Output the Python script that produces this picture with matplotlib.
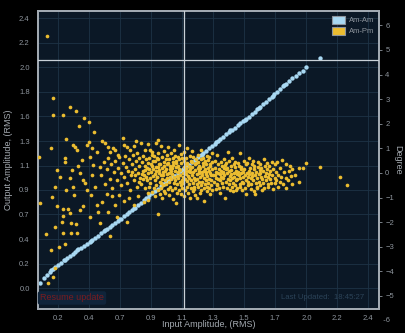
import matplotlib
matplotlib.use('Agg')
import matplotlib.pyplot as plt
import matplotlib.transforms as mtransforms
from matplotlib.patches import Patch
import numpy as np

plt.rcParams['font.family'] = ['Liberation Sans', 'DejaVu Sans']

# axis ticks (the instrument labels rounded values of evenly spaced ticks)
x_ticks = [0.218, 0.436, 0.655, 0.873, 1.091, 1.309, 1.527, 1.745, 1.964, 2.182, 2.4]
x_tick_labels = ['0.2', '0.4', '0.7', '0.9', '1.1', '1.3', '1.5', '1.7', '2.0', '2.2', '2.4']
y_ticks = [0.0, 0.222, 0.444, 0.667, 0.889, 1.111, 1.333, 1.556, 1.778, 2.0, 2.222, 2.444]
y_tick_labels = ['0.0', '0.2', '0.4', '0.7', '0.9', '1.1', '1.3', '1.6', '1.8', '2.0', '2.2', '2.4']
deg_ticks = [-6, -5, -4, -3, -2, -1, 0, 1, 2, 3, 4, 5, 6]

# marker (crosshair) position
cursor_x = 1.105
cursor_y = 2.068

# Am-Am: input vs output amplitude (RMS)
am_am = [(0.090, 0.050), (0.120, 0.090), (0.140, 0.120), (0.160, 0.150), (0.180, 0.170),
         (0.200, 0.190), (0.220, 0.210), (0.240, 0.230), (0.260, 0.250), (0.280, 0.270),
         (0.300, 0.290), (0.320, 0.310), (0.340, 0.330), (0.360, 0.350), (0.380, 0.365),
         (0.400, 0.380), (0.420, 0.400), (0.440, 0.420), (0.460, 0.440), (0.480, 0.455),
         (0.500, 0.475), (0.520, 0.495), (0.540, 0.515), (0.560, 0.535), (0.580, 0.550),
         (0.600, 0.570), (0.620, 0.590), (0.640, 0.610), (0.660, 0.630), (0.680, 0.650),
         (0.700, 0.670), (0.720, 0.690), (0.740, 0.710), (0.760, 0.730), (0.780, 0.750),
         (0.800, 0.775), (0.820, 0.795), (0.840, 0.815), (0.860, 0.840), (0.880, 0.860),
         (0.900, 0.880), (0.920, 0.900), (0.940, 0.925), (0.960, 0.945), (0.980, 0.970),
         (1.000, 0.985), (1.020, 1.005), (1.040, 1.020), (1.060, 1.040), (1.080, 1.060),
         (1.100, 1.080), (1.120, 1.100), (1.140, 1.120), (1.160, 1.140), (1.180, 1.165),
         (1.200, 1.185), (1.220, 1.205), (1.240, 1.225), (1.260, 1.245), (1.280, 1.270),
         (1.300, 1.290), (1.320, 1.310), (1.340, 1.330), (1.360, 1.350), (1.380, 1.370),
         (1.400, 1.395), (1.420, 1.415), (1.440, 1.435), (1.460, 1.455), (1.480, 1.475),
         (1.500, 1.495), (1.520, 1.515), (1.540, 1.535), (1.560, 1.555), (1.580, 1.575),
         (1.600, 1.600), (1.620, 1.620), (1.640, 1.640), (1.660, 1.665), (1.680, 1.690),
         (1.700, 1.710), (1.720, 1.735), (1.740, 1.760), (1.760, 1.780), (1.780, 1.805),
         (1.800, 1.830), (1.820, 1.850), (1.840, 1.875), (1.860, 1.900), (1.890, 1.920),
         (1.915, 1.950), (1.940, 1.970), (1.965, 2.000), (2.060, 2.090)]
am_am_extra = [(0.17, 0.165), (0.27, 0.255), (0.35, 0.345), (0.45, 0.425), (0.55, 0.530),
               (0.65, 0.625), (0.75, 0.725), (0.85, 0.820), (0.95, 0.940), (1.03, 1.015),
               (1.13, 1.115), (1.23, 1.210), (1.33, 1.325), (1.43, 1.430), (1.53, 1.520),
               (1.63, 1.635), (1.73, 1.742), (1.81, 1.843)]

# Am-Pm: input amplitude vs phase (degree), low amplitude region
am_pm_low = [(0.141, 5.57), (0.185, 3.04), (0.183, 2.36), (0.256, 2.36), (0.303, 2.70), (0.345, 2.53),
             (0.403, 2.22), (0.436, 2.09), (0.366, 1.91), (0.474, 1.68), (0.274, 1.38), (0.169, 1.00),
             (0.085, 0.66), (0.326, 1.14), (0.340, 1.05), (0.352, 0.95), (0.438, 1.27), (0.425, 1.12),
             (0.455, 1.02), (0.209, 0.12), (0.267, 0.60), (0.270, 0.45), (0.315, 0.12), (0.300, -0.20),
             (0.370, 0.00), (0.390, -0.28), (0.455, -0.08), (0.465, 0.33), (0.385, 0.53), (0.443, 0.66),
             (0.490, 0.87), (0.420, -0.69), (0.324, -0.56), (0.197, -0.56), (0.274, -0.69), (0.174, -0.96),
             (0.092, -1.21), (0.209, -1.34), (0.251, -1.47), (0.289, -1.47), (0.256, -1.75), (0.303, -1.64),
             (0.369, -1.50), (0.390, -1.35), (0.244, -1.98), (0.308, -2.05), (0.345, -2.07), (0.197, -2.18),
             (0.256, -2.43), (0.308, -2.45), (0.354, -2.45), (0.228, -3.00), (0.167, -3.13), (0.185, -4.24),
             (0.148, -4.47), (0.197, -3.86), (0.490, -1.30), (0.450, -0.90), (0.330, -0.90), (0.440, -1.80),
             (0.130, -2.50), (0.270, -2.90), (0.410, -0.40), (0.480, -0.55), (0.360, 0.30), (0.230, -0.15)]

am_pm_rise = [(0.526, 1.30), (0.550, 1.23), (0.584, 0.87), (0.605, 1.02), (0.640, 0.73), (0.678, 1.41),
              (0.682, 1.14), (0.725, 0.93), (0.767, 1.31), (0.772, 0.80), (0.830, 0.93), (0.852, 1.17),
              (0.877, 0.73), (0.700, 1.05), (0.620, 0.95), (0.750, 1.10), (0.800, 1.20), (0.570, 1.05),
              (0.920, 1.34),
              (0.514, 0.26), (0.522, -0.10), (0.540, 0.45), (0.548, -0.45), (0.560, 0.15), (0.572, 0.60),
              (0.580, -0.25), (0.592, 0.35), (0.600, -0.60), (0.610, 0.05), (0.618, 0.50), (0.630, -0.30),
              (0.642, 0.20), (0.650, 0.65), (0.658, -0.50), (0.664, 0.00), (0.672, 0.40), (0.680, -0.15),
              (0.690, 0.70), (0.698, 0.25), (0.704, -0.40), (0.712, 0.10), (0.718, 0.55), (0.722, -0.70),
              (0.732, -0.10), (0.738, 0.35), (0.744, 0.75), (0.752, -0.30), (0.758, 0.15), (0.764, 0.50),
              (0.770, -0.55), (0.778, 0.00), (0.784, 0.60), (0.790, 0.30), (0.796, -0.20), (0.802, -0.45),
              (0.806, 0.45), (0.812, 0.10), (0.816, 0.70), (0.822, -0.10), (0.826, 0.30), (0.832, -0.60),
              (0.836, 0.55), (0.842, 0.20), (0.846, -0.30), (0.850, 0.00), (0.854, 0.40), (0.848, -0.80),
              (0.788, -0.35), (0.808, -0.05), (0.828, 0.12), (0.818, -0.25), (0.838, -0.15), (0.760, -0.10),
              (0.740, 0.05),
              (0.500, -1.60), (0.530, -1.17), (0.514, -2.05), (0.570, -1.60), (0.584, -2.56), (0.600, -0.95),
              (0.620, -1.30), (0.650, -0.90), (0.680, -1.15), (0.702, -2.00), (0.720, -1.00), (0.750, -1.30),
              (0.780, -0.95), (0.820, -1.20), (0.920, -1.67), (0.630, -1.80), (0.560, -0.85)]

am_pm_core = [(0.861, 0.62), (0.856, 0.18), (0.864, -0.22), (0.858, -0.55), (0.866, 0.95), (0.853, -1.10),
              (0.872, 0.35), (0.868, -0.40), (0.875, 0.05),
              (0.881, 0.85), (0.877, 0.30), (0.884, -0.12), (0.879, -0.78), (0.886, 0.48),
              (0.892, -0.60), (0.888, 0.15), (0.895, 0.70),
              (0.901, 0.48), (0.897, -0.30), (0.904, 0.10), (0.899, -0.95), (0.906, 0.25), (0.903, -0.05),
              (0.912, 0.60), (0.908, -0.50), (0.915, -0.18), (0.910, 1.20),
              (0.921, 0.25), (0.917, -0.15), (0.924, 0.55), (0.919, -0.70), (0.926, 0.00), (0.923, 0.80),
              (0.932, -0.35), (0.928, 0.38), (0.935, -0.85), (0.930, 0.12),
              (0.941, 1.10), (0.937, 0.38), (0.944, -0.08), (0.939, -0.62), (0.946, 0.20), (0.943, -0.40),
              (0.952, 0.65), (0.948, -0.25), (0.955, 0.05), (0.950, -1.00),
              (0.961, 0.45), (0.957, -0.50), (0.964, 0.28), (0.959, -0.10), (0.966, 0.90), (0.963, -0.75),
              (0.972, -0.83), (0.968, 0.10), (0.975, 0.55), (0.970, -0.30),
              (0.981, 0.72), (0.977, 0.18), (0.984, -0.20), (0.979, -0.45), (0.986, 0.35), (0.983, -0.05),
              (0.992, -0.65), (0.988, 0.40), (0.995, 0.00), (0.990, 1.05),
              (1.001, 0.55), (0.997, -0.35), (1.004, 0.15), (0.999, -0.90), (1.006, 0.30), (1.003, -0.15),
              (1.012, 0.80), (1.008, -0.55), (1.015, 0.08), (1.010, -0.25),
              (1.021, 0.22), (1.017, -0.70), (1.024, 0.45), (1.019, -0.05), (1.026, 0.62), (1.023, -1.05),
              (1.032, -0.40), (1.028, 0.33), (1.035, -0.18), (1.030, 0.95),
              (1.041, 0.10), (1.037, -0.60), (1.044, 0.50), (1.039, -0.28), (1.046, -1.22), (1.043, 0.70),
              (1.052, -0.12), (1.048, 0.25), (1.055, -0.80), (1.050, 0.40),
              (1.061, 0.65), (1.057, -0.45), (1.064, 0.05), (1.059, -0.20), (1.066, 1.15), (1.063, 0.30),
              (1.072, -0.68), (1.068, 0.18), (1.075, -0.35), (1.070, 0.55),
              (1.081, 0.42), (1.077, -0.10), (1.084, -0.85), (1.079, 0.12), (1.086, 0.78), (1.083, -0.50),
              (1.092, -0.30), (1.088, 0.60), (1.095, 0.00), (1.090, -0.62),
              (1.101, 0.25), (1.097, -0.40), (1.104, 0.48), (1.099, -0.15), (1.106, -0.95), (1.103, 0.85),
              (1.112, 0.10), (1.108, -0.70), (1.115, 0.35), (1.110, -0.25),
              (1.121, 0.62), (1.117, -0.05), (1.124, -0.55), (1.119, 0.20), (1.126, 1.00), (1.123, -0.32),
              (1.132, -0.80), (1.128, 0.40), (1.135, -0.12), (1.130, 0.08),
              (1.141, 0.30), (1.137, -0.45), (1.144, 0.70), (1.139, -0.20), (1.146, 0.05), (1.143, -1.00),
              (1.152, -0.60), (1.148, 0.15), (1.155, 0.50), (1.150, -0.30),
              (1.161, 0.88), (1.157, -0.10), (1.164, -0.40), (1.159, 0.25), (1.166, -0.75), (1.163, 0.45),
              (1.172, -0.22), (1.168, 0.02), (1.175, -0.55), (1.170, 0.65),
              (1.181, 0.35), (1.177, -0.65), (1.184, 0.12), (1.179, -0.30), (1.186, 0.58), (1.183, -0.90),
              (1.192, -0.05), (1.188, 0.40), (1.195, -0.45), (1.194, -1.03),
              (1.201, 0.20), (1.197, -0.25), (1.204, 0.72), (1.199, -0.58), (1.206, 0.00), (1.203, 0.45),
              (1.212, -0.35), (1.208, 0.10), (1.215, -0.80), (1.210, 0.30),
              (1.221, 0.55), (1.217, -0.15), (1.224, -0.50), (1.219, 0.22), (1.226, -0.70), (1.223, 0.95),
              (1.232, 0.05), (1.228, -0.38), (1.235, 0.40), (1.230, -0.10),
              (1.241, -0.62), (1.237, 0.28), (1.244, -0.20), (1.239, 0.60), (1.246, -1.12), (1.243, 0.08),
              (1.252, 0.15), (1.248, -0.45), (1.255, -0.05), (1.250, 0.48),
              (1.261, -0.28), (1.257, 0.35), (1.264, -0.75), (1.259, 0.02), (1.266, 0.70), (1.263, -0.55),
              (1.272, 0.22), (1.268, -0.12), (1.275, -0.40), (1.270, 0.52),
              (1.281, 0.10), (1.277, -0.60), (1.284, 0.38), (1.279, -0.25), (1.286, -0.85), (1.283, 0.65),
              (1.292, -0.08), (1.288, 0.30), (1.295, -0.50), (1.290, 0.00),
              (1.301, 0.45), (1.297, -0.30), (1.304, 0.15), (1.299, -0.70), (1.306, -0.10), (1.303, 0.80)]

am_pm_high = [(1.321, 0.20), (1.317, -0.35), (1.324, 0.50), (1.319, -0.10), (1.326, -0.65),
              (1.332, -0.20), (1.328, 0.05), (1.335, -0.50),
              (1.341, 0.35), (1.337, -0.45), (1.344, 0.00), (1.339, 0.75), (1.346, -0.25),
              (1.352, -0.60), (1.348, 0.15), (1.355, -0.05),
              (1.361, 0.10), (1.357, -0.30), (1.364, 0.45), (1.359, -0.80), (1.366, -0.15),
              (1.372, 0.28), (1.368, -0.40), (1.375, -0.02),
              (1.381, -0.55), (1.377, 0.05), (1.384, 0.55), (1.379, -0.20), (1.386, 0.20),
              (1.392, -1.00), (1.388, -0.10), (1.395, 0.32),
              (1.401, 0.15), (1.397, -0.35), (1.404, -0.60), (1.399, 0.40), (1.406, 0.00),
              (1.412, -0.25), (1.408, 0.22), (1.415, 0.87),
              (1.421, -0.45), (1.417, 0.08), (1.424, -0.12), (1.419, 0.50), (1.426, -0.70),
              (1.432, 0.30), (1.428, -0.30), (1.435, -0.05),
              (1.441, -0.55), (1.437, 0.12), (1.444, 0.60), (1.439, -0.20), (1.446, -0.40),
              (1.452, 0.00), (1.448, -0.75), (1.455, 0.35),
              (1.461, 0.25), (1.457, -0.15), (1.464, -0.50), (1.459, 0.45), (1.466, -0.69),
              (1.472, -0.30), (1.468, 0.10), (1.475, -0.05),
              (1.481, 0.40), (1.477, -0.62), (1.484, 0.05), (1.479, -0.25),
              (1.492, -0.10), (1.488, 0.30), (1.495, -0.45),
              (1.501, 0.80), (1.497, -0.20), (1.504, 0.15), (1.499, -0.55), (1.506, 0.00),
              (1.512, -0.35), (1.508, 0.25), (1.515, -0.70),
              (1.521, 0.05), (1.517, -0.15), (1.524, 0.50), (1.519, -0.40),
              (1.532, -0.60), (1.528, 0.18), (1.535, -0.08),
              (1.541, 0.35), (1.537, -0.30), (1.544, 0.00), (1.539, -0.85),
              (1.552, -0.18), (1.548, 0.42), (1.555, -0.50),
              (1.561, 0.10), (1.557, -0.35), (1.564, 0.60), (1.559, -0.05),
              (1.572, -0.65), (1.568, 0.22), (1.575, -0.22),
              (1.581, 0.00), (1.577, -0.45), (1.584, 0.35), (1.579, -0.12),
              (1.592, 0.50), (1.588, -0.28), (1.595, -0.75),
              (1.601, -0.85), (1.597, 0.15), (1.604, -0.10), (1.599, 0.30),
              (1.612, -0.40), (1.608, 0.05), (1.615, -0.55),
              (1.621, 0.25), (1.617, -0.20), (1.624, 0.45), (1.619, -0.60),
              (1.632, -0.05), (1.628, -0.35), (1.635, 0.12),
              (1.641, 0.38), (1.637, -0.50), (1.644, -0.15), (1.639, 0.00),
              (1.652, -0.25), (1.648, 0.20), (1.655, -0.70),
              (1.661, 0.10), (1.657, -0.40), (1.664, 0.55),
              (1.672, -0.12), (1.668, -0.60), (1.675, 0.28),
              (1.681, 0.00), (1.677, -0.30), (1.684, 0.40),
              (1.692, -0.45), (1.688, 0.15), (1.695, -0.18),
              (1.701, 0.30), (1.697, -0.55), (1.704, -0.05),
              (1.712, -0.25), (1.708, 0.08),
              (1.721, 0.46), (1.717, -0.40), (1.724, -0.10),
              (1.732, 0.18), (1.728, -0.65),
              (1.741, -0.20), (1.746, 0.35), (1.744, -0.41),
              (1.752, 0.05), (1.748, -0.30),
              (1.758, 0.46), (1.762, -0.56), (1.765, -0.08),
              (1.781, 0.20), (1.777, -0.35),
              (1.793, 0.53), (1.788, -0.15),
              (1.801, -0.45), (1.806, 0.05),
              (1.823, 0.35), (1.823, -0.62), (1.818, -0.20),
              (1.841, 0.10), (1.837, -0.30),
              (1.852, 0.28), (1.855, -0.12),
              (1.862, -0.45), (1.866, 0.15),
              (1.883, -0.10),
              (1.910, 0.20), (1.915, -0.35), (1.940, 0.19), (1.964, 0.39),
              (2.063, 0.26), (2.201, -0.15), (2.253, -0.49)]

blue = '#a8d8f2'
gold = '#ecbd30'
txt = '#8d949c'

fig = plt.figure(figsize=(4.06, 3.33), dpi=100, facecolor='black')
ax = fig.add_axes([38 / 406, 1 - 309 / 333, 341 / 406, 298 / 333])
ax.set_facecolor('#0b1826')
ax.set_xlim(0.077, 2.475)
ax.set_ylim(-0.19, 2.512)

ax.set_xticks(x_ticks)
ax.set_xticklabels(x_tick_labels)
ax.set_yticks(y_ticks)
ax.set_yticklabels(y_tick_labels)
ax.grid(True, color='#1d3346', lw=0.6)
ax.set_axisbelow(True)
ax.tick_params(axis='both', length=0, labelsize=5.5, labelcolor=txt)
ax.tick_params(axis='x', pad=4)
ax.tick_params(axis='y', pad=6)

xa, ya = np.array(am_am + am_am_extra).T
ax.scatter(xa, ya, s=10, color=blue, lw=0, zorder=3)

ax2 = ax.twinx()
ax2.set_ylim(-5.53, 6.585)
ax2.set_yticks([t for t in deg_ticks if t > -5.53])
ax2.tick_params(axis='y', length=2.5, width=0.6, color=txt, labelsize=5.5, labelcolor=txt, pad=2)

pm = np.array(am_pm_low + am_pm_rise + am_pm_core + am_pm_high)
ax2.scatter(pm[:, 0], pm[:, 1], s=7, color=gold, lw=0, zorder=3)

# tick label below the plot frame
blend = mtransforms.blended_transform_factory(ax2.transAxes, ax2.transData)
for t in deg_ticks:
    if t < -5.53:
        ax2.text(1.0, t, '  ' + str(t), transform=blend, fontsize=5.5, color=txt,
                 va='center', ha='left', clip_on=False)

# crosshair lines
ax2.axvline(cursor_x, color='#c9d1d8', lw=0.9, zorder=4)
hblend = mtransforms.blended_transform_factory(ax2.transAxes, ax.transData)
ax2.plot([0, 1], [cursor_y, cursor_y], transform=hblend, color='#c9d1d8', lw=0.9, zorder=4)

for a in (ax, ax2):
    for sp in a.spines.values():
        sp.set_color('#a3abb3')
        sp.set_linewidth(1.3)

ax.set_xlabel('Input Amplitude, (RMS)', fontsize=6.5, color='#a5abb2')
ax.xaxis.set_label_coords(0.5, -0.038)
ax.set_ylabel('Output Amplitude, (RMS)', fontsize=6.5, color='#a5abb2', labelpad=4)
ax2.set_ylabel('Degree', fontsize=6.5, color='#a5abb2', rotation=270, labelpad=6)

handles = [Patch(facecolor=blue, edgecolor='#8d949c', lw=0.8, label='Am-Am'),
           Patch(facecolor=gold, edgecolor='#8d949c', lw=0.8, label='Am-Pm')]
ax2.legend(handles=handles, loc='upper right', frameon=False, fontsize=5.5, labelcolor=txt,
           handlelength=1.7, handleheight=1.3, handletextpad=0.5, labelspacing=0.3,
           borderaxespad=0.2)

ax2.text(0.006, 0.037, 'Resume update', transform=ax2.transAxes, fontsize=6.5,
         color='#7a1c20', va='center', ha='left',
         bbox=dict(boxstyle='round,pad=0.25', fc='#10243a', ec='none'))
ax2.text(0.713, 0.037, 'Last Updated:  18:45:27', transform=ax2.transAxes, fontsize=5.6,
         color='#2b4358', va='center', ha='left')

fig.savefig('out.png', dpi=100, facecolor='black')
